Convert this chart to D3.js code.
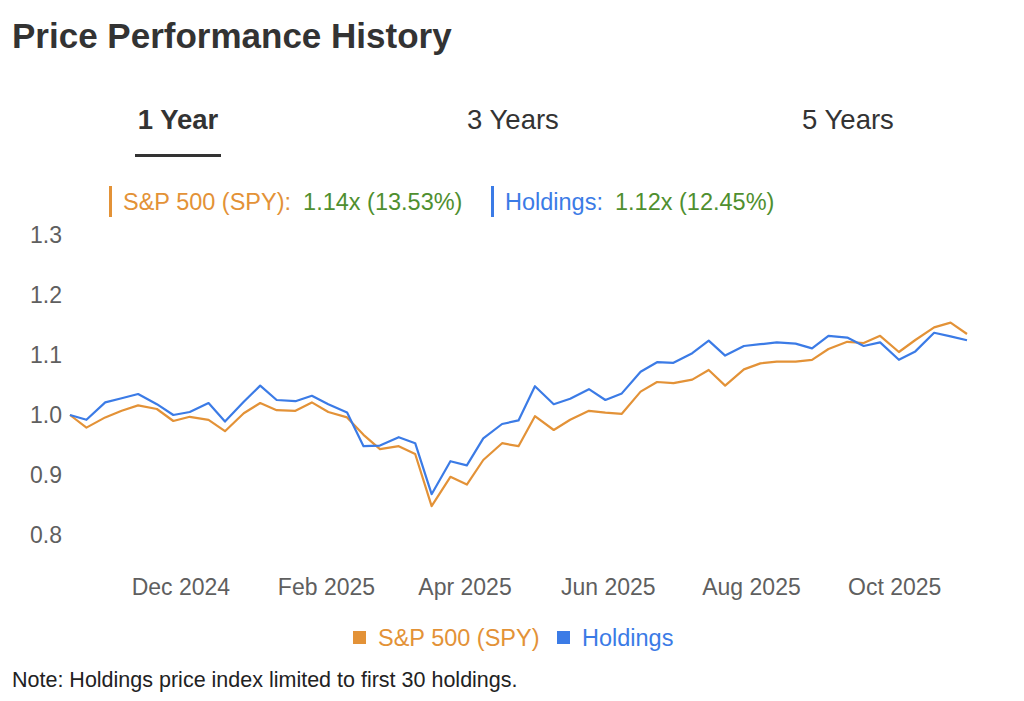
<!DOCTYPE html>
<html>
<head>
<meta charset="utf-8">
<script src="https://cdn.jsdelivr.net/npm/d3@7"></script>
<style>
  html, body { margin: 0; padding: 0; background: #fff; }
  svg { display: block; font-family: "Liberation Sans", Arial, Helvetica, sans-serif; }
</style>
</head>
<body>
<svg id="chart" width="1024" height="701"></svg>
<script>
// ---- data ----
const dates = [
  "2024-10-15","2024-10-22","2024-10-30","2024-11-06","2024-11-13","2024-11-21","2024-11-28",
  "2024-12-05","2024-12-13","2024-12-20","2024-12-28","2025-01-04","2025-01-11","2025-01-19",
  "2025-01-26","2025-02-02","2025-02-10","2025-02-17","2025-02-24","2025-03-04","2025-03-11",
  "2025-03-18","2025-03-26","2025-04-02","2025-04-09","2025-04-17","2025-04-24","2025-05-01",
  "2025-05-09","2025-05-16","2025-05-24","2025-05-31","2025-06-07","2025-06-15","2025-06-22",
  "2025-06-29","2025-07-07","2025-07-14","2025-07-21","2025-07-29","2025-08-05","2025-08-12",
  "2025-08-20","2025-08-27","2025-09-03","2025-09-11","2025-09-18","2025-09-25","2025-10-03",
  "2025-10-10","2025-10-18","2025-10-25","2025-11-01"
];
const spyValues = [
  1.000, 0.979, 0.996, 1.007, 1.016, 1.010, 0.990, 0.997, 0.992, 0.973,
  1.003, 1.020, 1.008, 1.007, 1.021, 1.005, 0.996, 0.967, 0.943, 0.948,
  0.935, 0.848, 0.897, 0.884, 0.925, 0.953, 0.948, 0.998, 0.975, 0.992,
  1.007, 1.004, 1.002, 1.039, 1.055, 1.053, 1.059, 1.075, 1.049, 1.076,
  1.086, 1.089, 1.089, 1.092, 1.110, 1.122, 1.120, 1.132, 1.105, 1.125,
  1.146, 1.154, 1.135
];
const holdingsValues = [
  1.000, 0.992, 1.021, 1.028, 1.035, 1.018, 1.000, 1.005, 1.020, 0.989,
  1.022, 1.049, 1.025, 1.023, 1.032, 1.018, 1.004, 0.948, 0.949, 0.963,
  0.953, 0.868, 0.923, 0.916, 0.961, 0.985, 0.991, 1.048, 1.018, 1.027,
  1.043, 1.025, 1.036, 1.072, 1.088, 1.087, 1.103, 1.124, 1.099, 1.115,
  1.118, 1.121, 1.119, 1.111, 1.132, 1.129, 1.115, 1.121, 1.092, 1.106,
  1.137, 1.131, 1.1245
];
const yTicks = [0.8, 0.9, 1.0, 1.1, 1.2, 1.3];
const xTickDates = ["2024-12-01","2025-02-01","2025-04-01","2025-06-01","2025-08-01","2025-10-01"];
const tabs = ["1 Year", "3 Years", "5 Years"];
const seriesNames = ["S&P 500 (SPY)", "Holdings"];
const seriesColors = ["#e39237", "#3b7be6"];
const summaryText = ["1.14x (13.53%)", "1.12x (12.45%)"];

// ---- setup ----
const svg = d3.select("#chart");
const parse = d3.utcParse("%Y-%m-%d");
const xDates = dates.map(parse);

const x = d3.scaleUtc()
  .domain(d3.extent(xDates))
  .range([70, 967]);
const y = d3.scaleLinear()
  .domain([0.8, 1.3])
  .range([535, 235]);

// Title
svg.append("text")
  .attr("x", 12).attr("y", 48)
  .attr("font-size", 35).attr("font-weight", "bold")
  .attr("fill", "#333")
  .text("Price Performance History");

// Tabs
const tabX = d3.scalePoint().domain(tabs).range([178, 848]);
tabs.forEach((t, i) => {
  svg.append("text")
    .attr("x", tabX(t)).attr("y", 129)
    .attr("text-anchor", "middle")
    .attr("font-size", 27.5)
    .attr("font-weight", i === 0 ? "bold" : "normal")
    .attr("fill", "#333")
    .text(t);
});
svg.append("rect")
  .attr("x", 135).attr("y", 154).attr("width", 86).attr("height", 3)
  .attr("fill", "#333");

// Top legend
const topLeg = [{x: 109}, {x: 491}];
seriesNames.forEach((name, i) => {
  const g = svg.append("g").attr("transform", `translate(${topLeg[i].x},0)`);
  g.append("rect").attr("x", 0).attr("y", 186).attr("width", 3).attr("height", 31)
    .attr("fill", seriesColors[i]);
  const t = g.append("text").attr("x", 14).attr("y", 210).attr("font-size", 23.5);
  t.append("tspan").attr("fill", seriesColors[i]).text(name + ":");
  t.append("tspan").attr("dx", 12).attr("fill", "#4f8f2f").text(summaryText[i]);
});

// Y axis
const yAxis = d3.axisLeft(y).tickValues(yTicks).tickFormat(d3.format(".1f")).tickSize(0).tickPadding(0);
const yg = svg.append("g").attr("transform", "translate(62,0)").call(yAxis);
yg.select(".domain").remove();
yg.selectAll("text").attr("font-size", 23).attr("fill", "#5f5f5f")
  .attr("font-family", "'Liberation Sans', Arial, sans-serif");

// X axis
const xAxis = d3.axisBottom(x).tickValues(xTickDates.map(parse))
  .tickFormat(d3.utcFormat("%b %Y")).tickSize(0).tickPadding(0);
const xg = svg.append("g").attr("transform", "translate(0,579)").call(xAxis);
xg.select(".domain").remove();
xg.selectAll("text").attr("font-size", 23).attr("fill", "#5f5f5f")
  .attr("font-family", "'Liberation Sans', Arial, sans-serif");

// Lines
const line = d3.line().x((d, i) => x(xDates[i])).y(d => y(d));
[spyValues, holdingsValues].forEach((vals, i) => {
  svg.append("path")
    .datum(vals)
    .attr("fill", "none")
    .attr("stroke", seriesColors[i])
    .attr("stroke-width", 2.2)
    .attr("stroke-linejoin", "round")
    .attr("d", line);
});

// Bottom legend
const botLeg = [{x: 353}, {x: 557}];
seriesNames.forEach((name, i) => {
  const g = svg.append("g").attr("transform", `translate(${botLeg[i].x},0)`);
  g.append("rect").attr("x", 0).attr("y", 631).attr("width", 13).attr("height", 13)
    .attr("fill", seriesColors[i]);
  g.append("text").attr("x", 25).attr("y", 646).attr("font-size", 23.5)
    .attr("fill", seriesColors[i]).text(name);
});

// Note
svg.append("text")
  .attr("x", 12).attr("y", 687)
  .attr("font-size", 21.5).attr("fill", "#222")
  .text("Note: Holdings price index limited to first 30 holdings.");
</script>
</body>
</html>
